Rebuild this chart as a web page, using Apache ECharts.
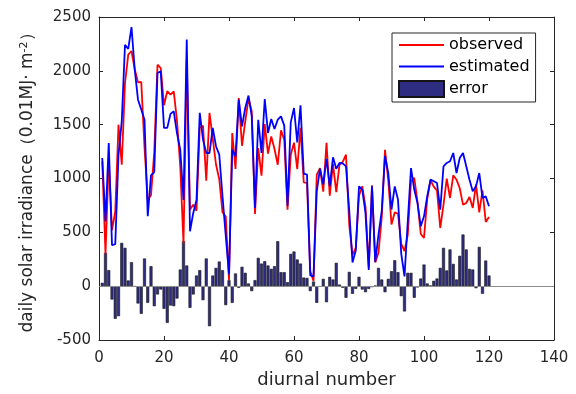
<!DOCTYPE html>
<html><head><meta charset="utf-8">
<script src="https://cdn.jsdelivr.net/npm/echarts@6/dist/echarts.min.js"></script>
<style>html,body{margin:0;padding:0;background:#fff}#c{width:576px;height:394px}</style>
</head><body><div id="c"></div>
<script>
const days = [1,2,3,4,5,6,7,8,9,10,11,12,13,14,15,16,17,18,19,20,21,22,23,24,25,26,27,28,29,30,31,32,33,34,35,36,37,38,39,40,41,42,43,44,45,46,47,48,49,50,51,52,53,54,55,56,57,58,59,60,61,62,63,64,65,66,67,68,69,70,71,72,73,74,75,76,77,78,79,80,81,82,83,84,85,86,87,88,89,90,91,92,93,94,95,96,97,98,99,100,101,102,103,104,105,106,107,108,109,110,111,112,113,114,115,116,117,118,119,120];
const observed = [1159,300,1180,520,693,1500,1128,1887,2150,2184,2015,1893,1897,1290,804,844,1246,2057,2026,1680,1811,1780,1810,1535,1113,400,2098,711,757,700,1470,1491,980,1609,1371,1130,993,686,646,55,1423,1088,1747,1304,1531,1745,1623,670,1283,1027,1506,1231,1391,1274,1128,1447,1361,711,1221,1333,1088,1470,965,959,140,48,1035,1096,877,1332,841,1135,874,1129,1155,1221,567,290,355,840,928,736,175,936,220,310,640,1266,984,573,686,673,393,326,476,973,1005,784,485,448,810,984,924,887,540,757,998,819,1030,989,909,757,772,828,726,946,686,890,596,643];
const estimated = [1190,600,1330,380,390,1220,1530,2243,2203,2407,2010,1732,1640,1546,649,1030,1060,1980,1995,1470,1470,1600,1624,1420,1268,800,2290,510,680,800,1610,1361,1237,1237,1470,1300,1222,835,470,110,1268,1206,1732,1484,1655,1770,1577,726,1546,1237,1738,1423,1552,1460,1546,1577,1491,748,1521,1655,1336,1680,1045,1036,100,91,880,1091,945,1183,928,1197,1091,1144,1140,1113,700,220,330,927,897,680,150,927,225,480,700,1210,1052,712,927,803,300,91,600,1097,897,772,556,649,835,990,974,958,710,1113,1144,1160,1237,1051,1191,1237,1113,989,881,927,1051,819,834,742];
const errorVals = [31,310,149,-124,-303,-279,402,356,53,223,-5,-161,-257,257,-155,186,-186,-77,-31,-210,-341,-180,-186,-115,155,418,192,-201,-77,99,149,-130,257,-372,99,170,229,149,-176,56,-155,118,-15,180,124,25,-46,56,263,210,232,192,161,186,418,130,130,37,300,322,248,210,80,77,-46,43,-155,-5,68,-149,87,62,217,15,-15,-108,133,-71,-25,87,-31,-56,-25,-9,5,170,62,-56,68,139,241,130,-93,-235,124,124,-108,-12,71,201,25,6,50,71,170,356,146,341,207,62,282,480,341,161,155,-19,365,-71,238,99];
const seriesNames = ['observed','estimated','error'];
const xTitle = 'diurnal number';
const yTitle = '{t|daily solar irradiance（0.01MJ· m}{s|-2}{t|）}';
const xMin = 0, xMax = 140, xStep = 20;
const yMin = -500, yMax = 2500, yStep = 500;

const FONT = 'DejaVu Sans';
const INK = '#262626';
const RED = '#ff0000', BLUE = '#0000ff', BAR = '#2f2d82';
const pair = arr => days.map((d, i) => [d, arr[i]]);
// thin horizontal line icon; the degenerate sub-paths keep the 45x16 bounding box
const lineIcon = 'path://M0,0L0,0.01M0,7.1L45,7.1L45,8.9L0,8.9ZM45,16L45,16.01';

const chart = echarts.init(document.getElementById('c'), null, {renderer: 'canvas'});

const baseX = {
  type: 'value', min: xMin, max: xMax, interval: xStep,
  axisLine: {show: true, onZero: false, lineStyle: {color: INK, width: 1}},
  axisTick: {show: true, inside: true, length: 4, lineStyle: {color: INK}},
  splitLine: {show: false}
};
const baseY = {
  type: 'value', min: yMin, max: yMax, interval: yStep,
  axisLine: {show: true, onZero: false, lineStyle: {color: INK, width: 1}},
  axisTick: {show: true, inside: true, length: 4, lineStyle: {color: INK}},
  splitLine: {show: false}
};

chart.setOption({
  animation: false,
  backgroundColor: '#ffffff',
  grid: {left: 99, right: 22, top: 17, bottom: 54, containLabel: false},
  legend: {
    orient: 'vertical', left: 392, top: 33,
    padding: [4, 6, 4, 6], itemGap: 5.5, itemWidth: 45, itemHeight: 16,
    backgroundColor: '#ffffff', borderColor: INK, borderWidth: 1,
    textStyle: {fontFamily: FONT, fontSize: 16, color: '#000'},
    data: [
      {name: seriesNames[0], icon: lineIcon, itemStyle: {color: RED, borderWidth: 0}},
      {name: seriesNames[1], icon: lineIcon, itemStyle: {color: BLUE, borderWidth: 0}},
      {name: seriesNames[2], icon: 'rect'}
    ]
  },
  xAxis: [
    Object.assign({}, baseX, {
      position: 'bottom',
      axisLabel: {margin: 11, fontFamily: FONT, fontSize: 15, color: INK, formatter: v => String(v)},
      name: xTitle, nameLocation: 'middle', nameGap: 26,
      nameTextStyle: {fontFamily: FONT, fontSize: 18, color: INK}
    }),
    Object.assign({}, baseX, {position: 'top', axisLabel: {show: false}})
  ],
  yAxis: [
    Object.assign({}, baseY, {
      position: 'left',
      axisLabel: {margin: 8, fontFamily: FONT, fontSize: 15, color: INK, formatter: v => String(v)},
      name: yTitle, nameLocation: 'middle', nameGap: 62,
      nameTextStyle: {
        rich: {
          t: {fontFamily: FONT, fontSize: 17, color: INK},
          s: {fontFamily: FONT, fontSize: 11, color: INK, verticalAlign: 'bottom', padding: [0, 0, 7, 0]}
        }
      }
    }),
    Object.assign({}, baseY, {position: 'right', axisLabel: {show: false}})
  ],
  series: [
    {
      name: seriesNames[0], type: 'line', data: pair(observed), symbol: 'none',
      lineStyle: {color: RED, width: 1.8}, itemStyle: {color: RED}, z: 3
    },
    {
      name: seriesNames[1], type: 'line', data: pair(estimated), symbol: 'none',
      lineStyle: {color: BLUE, width: 1.8}, itemStyle: {color: BLUE}, z: 4
    },
    {
      name: seriesNames[2], type: 'bar', data: pair(errorVals), barWidth: 3,
      itemStyle: {color: BAR, borderColor: '#141414', borderWidth: 0.6}, z: 2,
      markLine: {
        silent: true, symbol: 'none', label: {show: false},
        lineStyle: {color: '#8c8c8c', width: 1, type: 'solid'},
        data: [{yAxis: 0}]
      }
    }
  ]
});
</script>
</body></html>
